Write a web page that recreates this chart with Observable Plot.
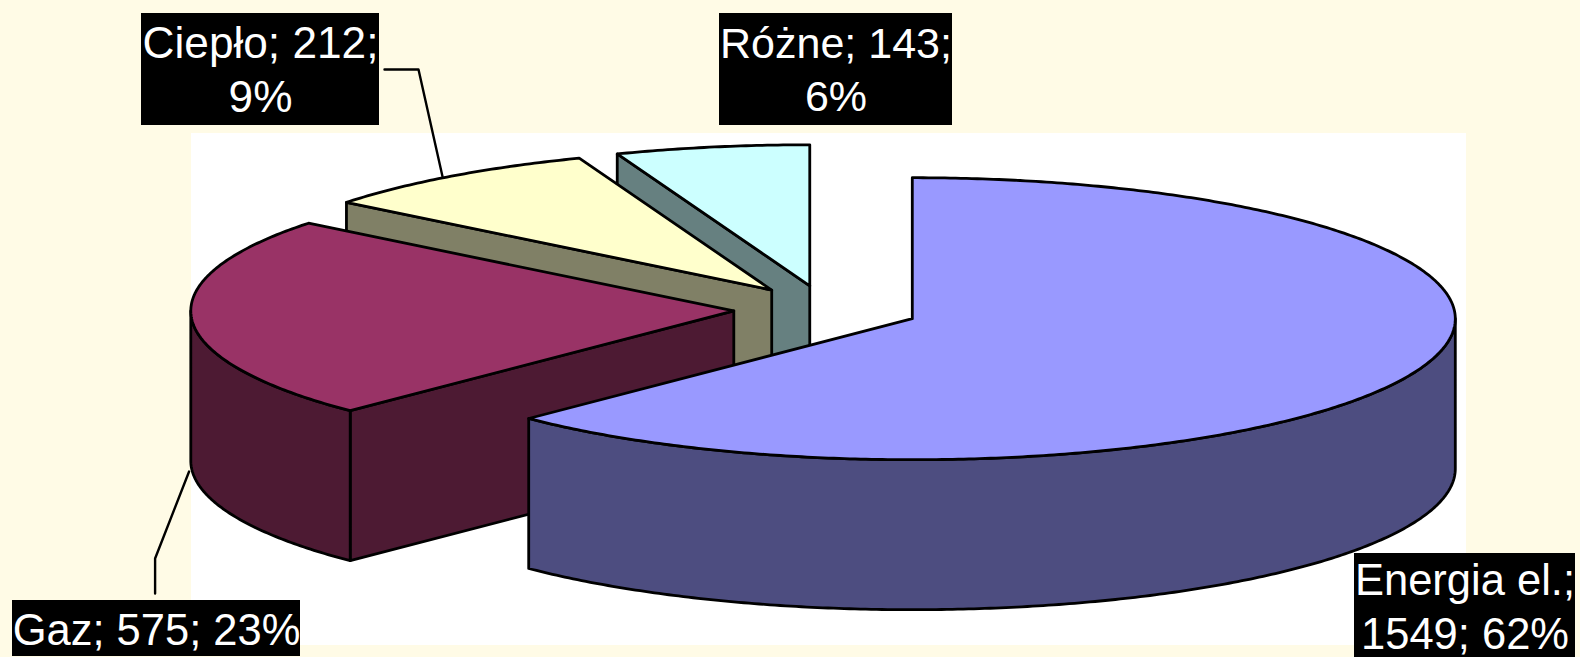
<!DOCTYPE html>
<html lang="pl">
<head>
<meta charset="utf-8">
<title>Wykres</title>
<script src="https://cdn.jsdelivr.net/npm/d3@7"></script>
<script src="https://cdn.jsdelivr.net/npm/@observablehq/plot@0.6"></script>
<style>html,body{margin:0;padding:0;background:#FFFBE6;overflow:hidden}svg{display:block}</style>
</head>
<body>
<div id="chart"></div>
<script>
// Data, clockwise from 12 o'clock
const categories = ["Energia el.", "Gaz", "Ciepło", "Różne"];
const values = [1549, 575, 212, 143];
const percents = ["62%", "23%", "9%", "6%"];
const topColors = ["#9999FF", "#993366", "#FFFFCC", "#CCFFFF"];
const sideColors = ["#4D4D80", "#4D1A33", "#808066", "#668080"];
const labelLines = [
  "Energia el.;\n1549; 62%",
  "Gaz; 575; 23%",
  "Ciepło; 212;\n9%",
  "Różne; 143;\n6%"
];

// Layout
const W = 1580, H = 657;
const cx = 826, cy = 309, rx = 543, ry = 141, depth = 150, explode = 0.171;
const plotArea = {x1: 191, x2: 1466, y1: 133, y2: 645};
const boxes = [
  {x1: 1354, x2: 1575, y1: 553, y2: 657, size: 43.5, dy: -0.5},
  {x1: 12, x2: 300, y1: 600, y2: 656, size: 43.5, dy: -1},
  {x1: 141, x2: 379, y1: 13, y2: 125, size: 44.2, dy: -2},
  {x1: 719, x2: 952, y1: 13, y2: 125, size: 43, dy: -2}
];
const leaders = [
  [[384, 69], [418, 69], [442, 176]],
  [[188.6, 471], [154.6, 558], [154.6, 593]]
];

// Pie geometry from the values
const total = d3.sum(values);
let acc = 0;
const slices = values.map((v, i) => {
  const a0 = acc / total * 2 * Math.PI;
  acc += v;
  const a1 = acc / total * 2 * Math.PI;
  const mid = (a0 + a1) / 2;
  return {i, a0, a1,
    ox: cx + explode * rx * Math.sin(mid),
    oy: cy - explode * ry * Math.cos(mid)};
});
const rim = (s, a, dy = 0) => ({x: s.ox + rx * Math.sin(a), y: s.oy - ry * Math.cos(a) + dy});
const arc = (s, a0, a1, dy = 0) => {
  const n = Math.max(2, Math.ceil(Math.abs(a1 - a0) / 0.01));
  return d3.range(n + 1).map(k => rim(s, a0 + (a1 - a0) * k / n, dy));
};
const closed = pts => [...pts, pts[0]];
const topFace = s => closed([{x: s.ox, y: s.oy}, ...arc(s, s.a0, s.a1)]);
const rimWall = (s, a0, a1) => closed([...arc(s, a0, a1), ...arc(s, a1, a0, depth)]);
const cutFace = (s, a) => closed([
  {x: s.ox, y: s.oy}, rim(s, a), rim(s, a, depth), {x: s.ox, y: s.oy + depth}
]);
const poly = (pts, fill) => Plot.line(pts, {
  x: "x", y: "y", fill, stroke: "black", strokeWidth: 2.8, strokeLinejoin: "round", curve: "linear"
});

const [energia, gaz, cieplo, rozne] = slices;
const marks = [
  Plot.rect([plotArea], {x1: "x1", x2: "x2", y1: "y1", y2: "y2", fill: "white"}),
  // painted back to front
  poly(cutFace(rozne, rozne.a0), sideColors[3]),
  poly(topFace(rozne), topColors[3]),
  poly(cutFace(cieplo, cieplo.a0), sideColors[2]),
  poly(topFace(cieplo), topColors[2]),
  poly(cutFace(gaz, gaz.a0), sideColors[1]),
  poly(rimWall(gaz, gaz.a0, 1.5 * Math.PI), sideColors[1]),
  poly(topFace(gaz), topColors[1]),
  poly(rimWall(energia, Math.PI / 2, energia.a1), sideColors[0]),
  poly(topFace(energia), topColors[0]),
  ...leaders.map(l => Plot.line(l, {x: d => d[0], y: d => d[1], stroke: "black", strokeWidth: 2.4})),
  Plot.rect(boxes, {x1: "x1", x2: "x2", y1: "y1", y2: "y2", fill: "black"}),
  ...boxes.map((b, i) => Plot.text([labelLines[i]], {
    x: () => (b.x1 + b.x2) / 2,
    y: () => (b.y1 + b.y2) / 2 + b.dy,
    text: d => d,
    fill: "white",
    fontSize: b.size,
    lineHeight: 1.24,
    fontFamily: "'Liberation Sans', Arial, sans-serif"
  }))
];

document.getElementById("chart").append(Plot.plot({
  width: W, height: H,
  margin: 0,
  style: {background: "#FFFBE6"},
  x: {domain: [0, W], range: [0, W], axis: null},
  y: {domain: [0, H], range: [0, H], axis: null},
  marks
}));
</script>
</body>
</html>
